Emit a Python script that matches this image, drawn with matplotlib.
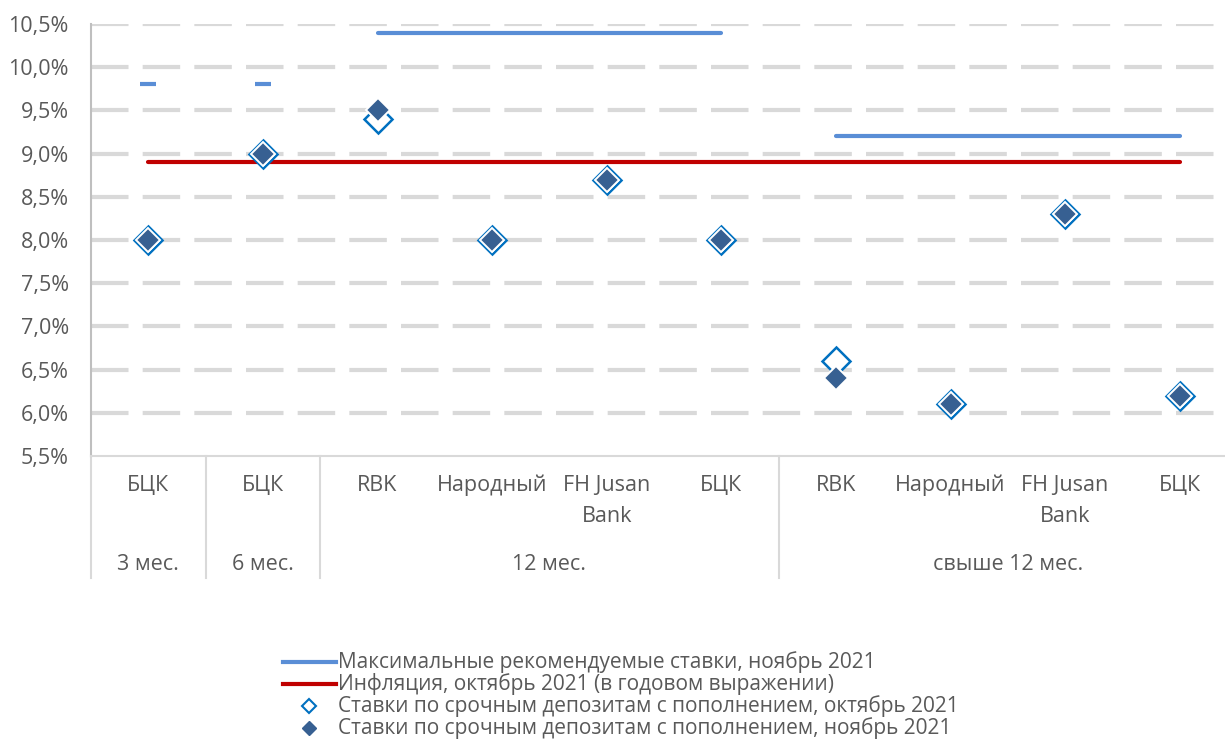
import matplotlib
matplotlib.use("Agg")
from matplotlib import pyplot as plt
from matplotlib.lines import Line2D
from matplotlib.ticker import FuncFormatter
import numpy as np

plt.rcParams['font.family'] = ['Open Sans', 'DejaVu Sans']

banks = ["БЦК", "БЦК", "RBK", "Народный", "FH Jusan\nBank", "БЦК",
         "RBK", "Народный", "FH Jusan\nBank", "БЦК"]
groups = ["3 мес.", "6 мес.", "12 мес.", "свыше 12 мес."]
group_sizes = [1, 1, 4, 4]

max_rate = [9.8, 9.8, 10.4, 10.4, 10.4, 10.4, 9.2, 9.2, 9.2, 9.2]
inflation = [8.9] * 10
oct_rates = [8.0, 9.0, 9.4, 8.0, 8.7, 8.0, 6.6, 6.1, 8.3, 6.2]
nov_rates = [8.0, 9.0, 9.5, 8.0, 8.7, 8.0, 6.4, 6.1, 8.3, 6.2]

blue = "#5A8ED6"
red = "#C00000"
oct_col = "#0070C0"
nov_col = "#376092"
txt = "#595959"
grid = "#D9D9D9"
fs = 15.5

W, H = 1225, 753
fig = plt.figure(figsize=(W / 100, H / 100), dpi=100)
ax = fig.add_axes([91 / W, 1 - 456 / H, (1237 - 91) / W, (456 - 24) / H])

x = np.arange(len(banks))
ax.set_xlim(-0.5, len(banks) - 0.5)
ax.set_ylim(5.5, 10.5)

# dashed horizontal gridlines
for v in np.arange(6.0, 10.51, 0.5):
    ax.axhline(v, color=grid, lw=3, ls=(0, (9, 3.4)), zorder=0)

# max recommended rate, one piece per term group
start = 0
for n in group_sizes:
    xs = x[start:start + n]
    ys = max_rate[start:start + n]
    if n == 1:
        ax.plot(xs, ys, marker="_", ms=11, mew=3, color=blue, ls="none", zorder=2)
    else:
        ax.plot(xs, ys, color=blue, lw=3, solid_capstyle="round", zorder=2)
    start += n

ax.plot(x, inflation, color=red, lw=3, solid_capstyle="round", zorder=2)

ax.plot(x, oct_rates, ls="none", marker="D", ms=14, mfc="white", mec=oct_col, mew=1.8, zorder=3)
ax.plot(x, nov_rates, ls="none", marker="D", ms=12, mfc=nov_col, mec="white", mew=1.4, zorder=4)

ax.yaxis.set_major_locator(plt.MultipleLocator(0.5))
ax.yaxis.set_major_formatter(FuncFormatter(lambda v, p: f"{v:.1f}%".replace(".", ",")))
ax.tick_params(axis="y", length=0, pad=16, labelsize=fs, labelcolor=txt)
ax.set_xticks([])

for s in ["top", "right"]:
    ax.spines[s].set_visible(False)
ax.spines["left"].set_color("#BFBFBF")
ax.spines["left"].set_linewidth(1.5)
ax.spines["bottom"].set_color(grid)
ax.spines["bottom"].set_linewidth(1.5)

# category table under the axis
px = 1.0 / 432  # one pixel in axes fraction (vertical)
for i, name in enumerate(banks):
    ax.text(i, -19 * px, name, transform=ax.get_xaxis_transform(), ha="center", va="top",
            fontsize=fs, color=txt, linespacing=1.6)

bounds = [-0.5]
start = 0
for g, n in zip(groups, group_sizes):
    mid = start + (n - 1) / 2
    ax.text(mid, -108 * px, g, transform=ax.get_xaxis_transform(), ha="center", va="center",
            fontsize=fs, color=txt)
    start += n
    bounds.append(start - 0.5)

for b in bounds[:-1]:
    ax.plot([b, b], [0, -122 * px], transform=ax.get_xaxis_transform(), color=grid,
            lw=1.5, clip_on=False)

# legend, drawn by hand to get Excel's tight rows
labels = [
    "Максимальные рекомендуемые ставки, ноябрь 2021",
    "Инфляция, октябрь 2021 (в годовом выражении)",
    "Ставки по срочным депозитам с пополнением, октябрь 2021",
    "Ставки по срочным депозитам с пополнением, ноябрь 2021",
]
styles = [
    dict(color=blue, lw=3),
    dict(color=red, lw=3),
    dict(ls="none", marker="D", ms=7, mfc="white", mec=oct_col, mew=1.5),
    dict(ls="none", marker="D", ms=7, mfc=nov_col, mec=nov_col),
]
for k, (lab, st) in enumerate(zip(labels, styles)):
    yy = 1 - (662 + 22 * k) / H
    if st.get("ls") == "none":
        fig.add_artist(Line2D([309 / W], [yy], transform=fig.transFigure, **st))
    else:
        fig.add_artist(Line2D([283 / W, 336 / W], [yy, yy], transform=fig.transFigure, **st))
    fig.text(338 / W, yy, lab, fontsize=15, color=txt, va="center", ha="left")

plt.savefig("out.png", dpi=100)
